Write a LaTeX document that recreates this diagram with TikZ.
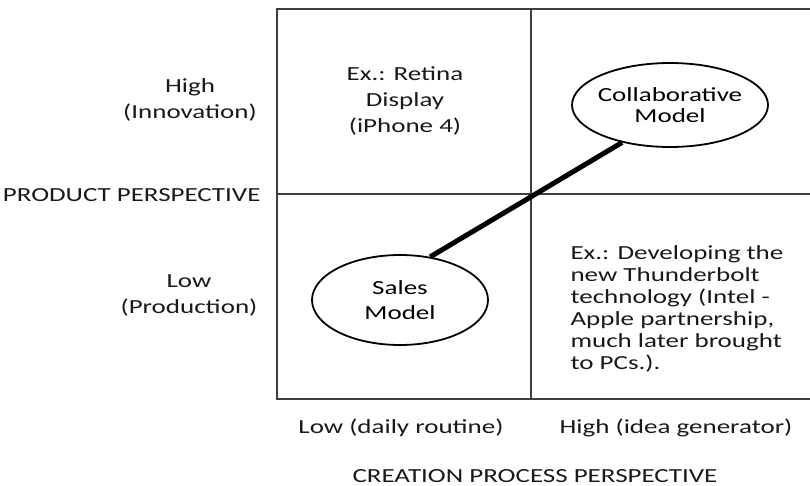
\documentclass[tikz,border=0pt]{standalone}
\usepackage{fontspec}
\setmainfont{Carlito}[FakeStretch=1.35]
\usetikzlibrary{shapes.geometric}

\begin{document}
\begin{tikzpicture}[x=1pt,y=-1pt,font=\fontsize{20}{26}\selectfont,
        rule/.style={line width=1.8pt,draw=black!75},
        model/.style={ellipse,draw,line width=1.8pt,align=center,inner xsep=-4pt,inner ysep=0pt},
        lbl/.style={align=center,text=black!90},
        link/.style={line width=5pt}]
        \useasboundingbox (0,0) rectangle (810,486);

        \coordinate (tl) at (277,9);
        \coordinate (tr) at (810,9);
        \coordinate (ml) at (277,194);
        \coordinate (mr) at (810,194);
        \coordinate (bl) at (277,399);
        \coordinate (br) at (810,399);
        \coordinate (tm) at (531,9);
        \coordinate (bm) at (531,399);

        \draw[rule] (tr) -- (tl) -- (bl) -- (br);
        \draw[rule] (ml) -- (mr);
        \draw[rule] (tm) -- (bm);

        \node[lbl] (high) at (190,100) {High\\(Innovation)};
        \node[lbl,anchor=east] (product) at (264,195) {PRODUCT PERSPECTIVE};
        \node[lbl] (low) at (189,295) {Low\\(Production)};

        \node[lbl] (retina) at (405,101) {Ex.: Retina\\Display\\(iPhone 4)};
        \node[model,font=\fontsize{20}{21}\selectfont,minimum width=196,minimum height=84] (collab) at (670,105) {Collaborative\\Model};
        \node[model,font=\fontsize{20}{25}\selectfont,minimum width=176,minimum height=90] (sales) at (400,300) {Sales\\Model};
        \node[lbl,align=left,anchor=north west,font=\fontsize{20}{22}\selectfont] (thunder) at (567,242)
            {Ex.: Developing the\\new Thunderbolt\\technology (Intel -\\Apple partnership,\\much later brought\\to PCs.).};

        \node[lbl] (lowx) at (401,428) {Low (daily routine)};
        \node[lbl] (highx) at (676,428) {High (idea generator)};
        \node[lbl] (creation) at (535,476) {CREATION PROCESS PERSPECTIVE};

        \draw[link] (sales.55) -- (collab.218);
\end{tikzpicture}
\end{document}
